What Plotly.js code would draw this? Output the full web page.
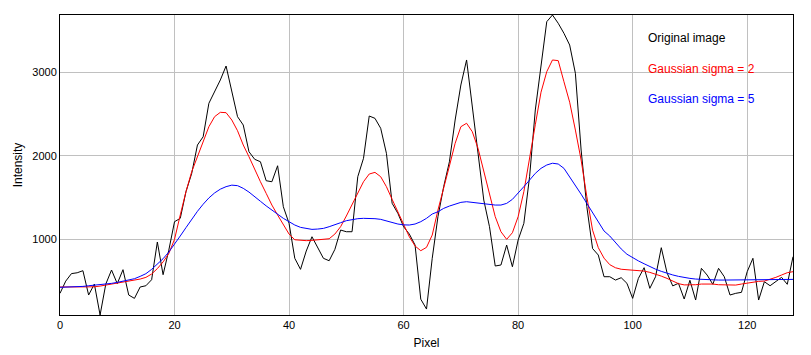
<!DOCTYPE html>
<html>
<head>
<meta charset="utf-8">
<script src="https://cdn.plot.ly/plotly-3.0.1.min.js"></script>
<style>html,body{margin:0;padding:0;background:#fff;}#chart{width:811px;height:355px;}</style>
</head>
<body>
<div id="chart"></div>
<script>
const seriesNames = ["Original image", "Gaussian sigma = 2", "Gaussian sigma = 5"];
const xTickValues = [0, 20, 40, 60, 80, 100, 120];
const yTickValues = [1000, 2000, 3000];

const original = [354,500,590,600,625,334,465,95,465,633,470,637,334,294,430,445,517,968,577,870,
1211,1251,1570,1789,2128,2227,2627,2766,2906,3073,2786,2467,2367,2048,1957,1928,1701,1689,1880,1390,
1191,773,641,860,1031,892,773,744,880,1111,1091,1091,1749,1969,2475,2447,2328,2029,1431,1311,
1151,1063,932,284,166,773,1271,1630,1928,2427,2846,3145,2586,2029,1470,1151,681,693,932,672,
992,1191,1749,2547,3110,3603,3683,3584,3464,3324,2986,2068,1390,890,812,553,553,513,541,474,
294,533,661,414,553,900,600,443,474,286,510,274,653,573,462,653,553,334,354,366,
613,773,274,493,445,493,545,462,792];

const sigma2 = [430,430,430,428,428,430,432,441,453,465,477,487,499,511,525,545,585,650,730,830,
1000,1291,1570,1809,1988,2188,2347,2467,2519,2515,2427,2299,2128,1988,1829,1689,1550,1410,1291,1171,
1063,995,988,984,988,992,996,1007,1063,1151,1279,1410,1558,1689,1781,1801,1749,1630,1478,1330,
1191,1031,920,864,904,1051,1350,1630,1877,2148,2347,2388,2287,2088,1809,1530,1271,1091,1000,1079,
1271,1570,1949,2370,2760,3005,3145,3137,2885,2640,2307,1949,1510,1110,900,775,697,660,642,636,
633,630,620,605,585,560,533,497,470,455,453,457,465,469,465,457,453,449,453,465,
477,489,497,501,521,545,573,601,613];

const sigma5 = [426,428,430,434,437,445,451,457,463,473,485,501,513,529,557,589,641,701,768,848,
940,1040,1140,1240,1335,1420,1495,1555,1600,1630,1648,1642,1610,1565,1515,1455,1400,1350,1303,1251,
1211,1171,1143,1127,1119,1123,1131,1151,1171,1199,1223,1239,1247,1251,1251,1247,1239,1219,1199,1183,
1173,1171,1183,1211,1251,1303,1330,1370,1398,1422,1442,1450,1442,1430,1422,1414,1410,1410,1430,1478,
1550,1630,1709,1789,1849,1889,1910,1901,1849,1749,1638,1540,1430,1320,1205,1100,1040,960,885,822,
778,742,708,674,643,617,593,574,557,543,533,525,521,513,513,513,513,513,513,513,
513,513,513,513,513,513,517,521,521];

const pixels = original.map((_, i) => i);
const colors = ["#000000", "#ff0000", "#0000ff"];
const all = original.concat(sigma2, sigma5);
const yMin = Math.min(...all), yMax = Math.max(...all);

const font = "Liberation Sans, Arial, sans-serif";
const traces = [original, sigma2, sigma5].map((ys, k) => ({
  x: pixels, y: ys, type: "scatter", mode: "lines", name: seriesNames[k],
  line: {color: colors[k], width: 1}, hoverinfo: "skip"
}));

const legendY = [0.923, 0.82, 0.72];
const annotations = seriesNames.map((t, k) => ({
  text: t, xref: "paper", yref: "paper", x: 0.8, y: legendY[k],
  xanchor: "left", yanchor: "middle", showarrow: false,
  font: {family: font, size: 12, color: colors[k]}
}));

const layout = {
  width: 811, height: 355,
  margin: {l: 60, r: 18, t: 15, b: 40},
  paper_bgcolor: "#ffffff", plot_bgcolor: "#ffffff",
  showlegend: false,
  font: {family: font, size: 11, color: "#000"},
  xaxis: {
    range: [0, 128], tickvals: xTickValues, showgrid: true, gridcolor: "#c0c0c0", gridwidth: 1,
    zeroline: false, showline: true, mirror: true, linecolor: "#000", linewidth: 1, ticks: "",
    tickfont: {family: font, size: 11, color: "#000"},
    title: {text: "Pixel", font: {family: font, size: 12, color: "#000"}, standoff: 8}
  },
  yaxis: {
    range: [yMin, yMax], tickvals: yTickValues, showgrid: true, gridcolor: "#c0c0c0", gridwidth: 1,
    zeroline: false, showline: true, mirror: true, linecolor: "#000", linewidth: 1, ticks: "",
    tickfont: {family: font, size: 11, color: "#000"},
    title: {text: "Intensity", font: {family: font, size: 12, color: "#000"}, standoff: 7}
  },
  annotations: annotations
};

Plotly.newPlot("chart", traces, layout, {staticPlot: true, displayModeBar: false});
</script>
</body>
</html>
